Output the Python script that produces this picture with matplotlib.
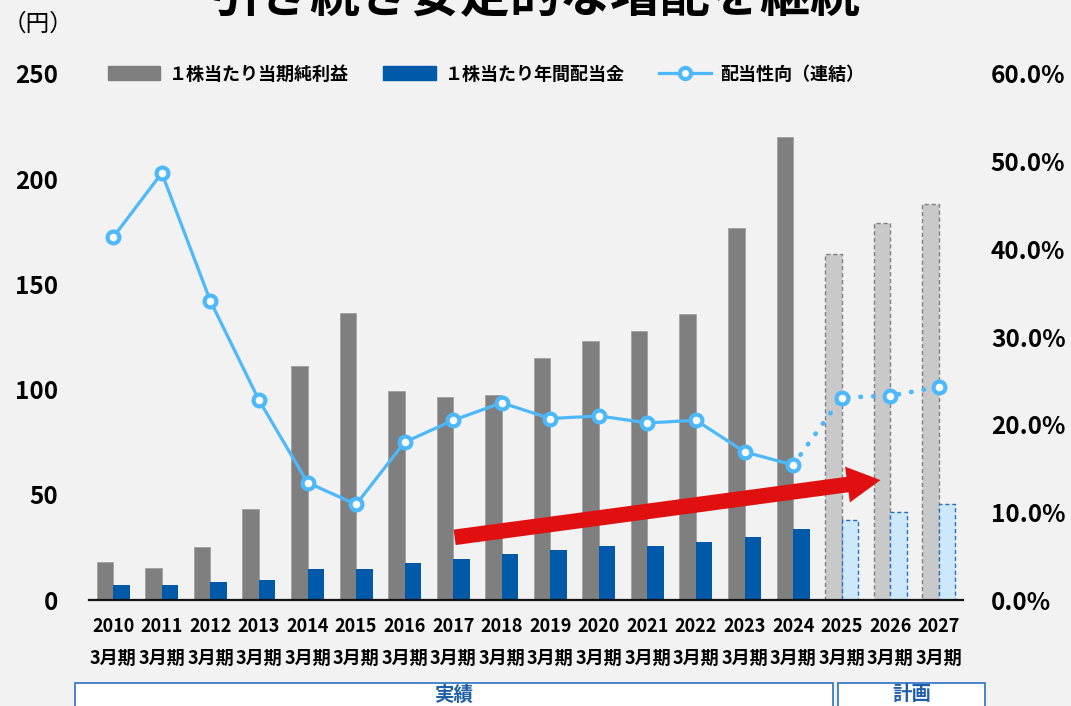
import numpy as np
import matplotlib.pyplot as plt
from matplotlib.patches import FancyArrowPatch, Rectangle
from matplotlib.lines import Line2D
from matplotlib.ticker import FuncFormatter

plt.rcParams['font.family'] = ['Noto Sans CJK JP', 'DejaVu Sans']

# データ
years = [str(y) for y in range(2010, 2028)]
eps = [18.0, 15.0, 25.3, 43.1, 111.4, 136.5, 99.3, 96.6, 97.3, 115.2,
       123.3, 127.9, 136.0, 176.8, 220.2, 164.3, 179.3, 188.4]
dps = [7.1, 7.1, 8.6, 9.5, 14.7, 14.7, 17.6, 19.5, 21.9, 23.8,
       25.7, 25.7, 27.6, 29.9, 33.7, 37.9, 42.0, 45.8]
payout = [41.4, 48.7, 34.1, 22.8, 13.4, 10.9, 18.0, 20.5, 22.5, 20.7,
          21.0, 20.2, 20.5, 16.9, 15.4, 23.1, 23.3, 24.3]
n_actual = 15  # 2010〜2024 が実績、以降は計画

labels = [f'{y}\n3月期' for y in years]

bg = '#f2f2f2'
c_eps = '#7f7f7f'
c_dps = '#005aa9'
c_eps_plan = '#c9c9c9'
c_dps_plan = '#cde8fb'
c_line = '#4db8fb'

fig = plt.figure(figsize=(10.71, 7.06), dpi=100, facecolor=bg)
ax = fig.add_axes([0.0831, 0.1501, 0.8161, 0.7451])
ax.set_facecolor(bg)
ax2 = ax.twinx()

x = np.arange(len(years))
w = 0.34
xa, xp = x[:n_actual], x[n_actual:]

ax.bar(xa - w / 2, eps[:n_actual], w, color=c_eps, edgecolor='#a0a0a0', linewidth=0.6, zorder=2)
ax.bar(xa + w / 2, dps[:n_actual], w, color=c_dps, zorder=2)
ax.bar(xp - w / 2, eps[n_actual:], w, color=c_eps_plan, edgecolor='#7f7f7f',
       linewidth=1.0, linestyle=(0, (3, 2)), zorder=2)
ax.bar(xp + w / 2, dps[n_actual:], w, color=c_dps_plan, edgecolor='#2a6fbf',
       linewidth=1.0, linestyle=(0, (3, 2)), zorder=2)

# 配当性向
ax2.plot(x[:n_actual], payout[:n_actual], color=c_line, lw=2.3, zorder=3)
ax2.plot(x[n_actual - 1:], payout[n_actual - 1:], color=c_line, lw=3.4,
         linestyle=(0, (0.1, 2.6)), dash_capstyle='round', zorder=3)
ax2.plot(x, payout, linestyle='none', marker='o', ms=8.5, mew=3,
         mfc='white', mec=c_line, zorder=4)

ax.set_xlim(-0.5, len(years) - 0.5)
ax.set_ylim(0, 250)
ax2.set_ylim(0, 60)
ax.set_yticks(range(0, 251, 50))
ax2.set_yticks(range(0, 61, 10))
ax2.yaxis.set_major_formatter(FuncFormatter(lambda v, p: f'{v:.1f}%'))
ax.set_xticks(x)
ax.set_xticklabels(labels, fontsize=13, fontweight='bold', linespacing=1.9)

ax.tick_params(axis='x', length=0, pad=12)
ax.tick_params(axis='y', length=0, pad=22, labelsize=17.5)
ax2.tick_params(axis='y', length=0, pad=20, labelsize=17.5)
for t in ax.get_yticklabels() + ax2.get_yticklabels():
    t.set_fontweight('bold')

for a in (ax, ax2):
    for s in ('top', 'left', 'right'):
        a.spines[s].set_visible(False)
ax2.spines['bottom'].set_visible(False)
ax.spines['bottom'].set_linewidth(1.6)
ax.spines['bottom'].set_color('#111111')

# 右肩上がりの赤い矢印
arrow = FancyArrowPatch((7.03, 29.8), (15.8, 57.0),
                        arrowstyle='simple,head_length=1.2,head_width=1.3,tail_width=0.56',
                        mutation_scale=20, color='#e01010', lw=0, zorder=5,
                        shrinkA=0, shrinkB=0)
ax.add_patch(arrow)

# 凡例
handles = [
    Rectangle((0, 0), 1, 1, color=c_eps),
    Rectangle((0, 0), 1, 1, color=c_dps),
    Line2D([], [], color=c_line, lw=2.3, marker='o', ms=8, mew=3, mfc='white', mec=c_line),
]
names = ['１株当たり当期純利益', '１株当たり年間配当金', '配当性向（連結）']
leg = fig.legend(handles, names, loc='center', bbox_to_anchor=(486 / 1071, 1 - 74 / 706),
                 ncol=3, frameon=False, handlelength=2.9, handleheight=0.8,
                 handletextpad=0.5, columnspacing=1.9,
                 prop={'size': 13, 'weight': 'bold'})

# タイトル・単位
fig.text(0.5, 1 - 12 / 706, '引き続き安定的な増配を継続', ha='center', va='baseline',
         fontsize=36, fontweight='bold')
fig.text(38 / 1071, 1 - 24 / 706, '（円）', ha='center', va='center', fontsize=17)

# 下部の区分ボックス
for x0, x1, txt in [(75, 833, '実績'), (838, 985, '計画')]:
    fig.patches.append(Rectangle((x0 / 1071, -0.05), (x1 - x0) / 1071, 0.05 + 1 - 683 / 706,
                                 transform=fig.transFigure, facecolor='white',
                                 edgecolor='#3a7cc8', linewidth=1.3))
    fig.text((x0 + x1) / 2 / 1071, 1 - 695 / 706, txt, ha='center', va='center',
             fontsize=14, fontweight='bold', color='#1f5fa8')

fig.savefig('out.png', dpi=100, facecolor=bg)
